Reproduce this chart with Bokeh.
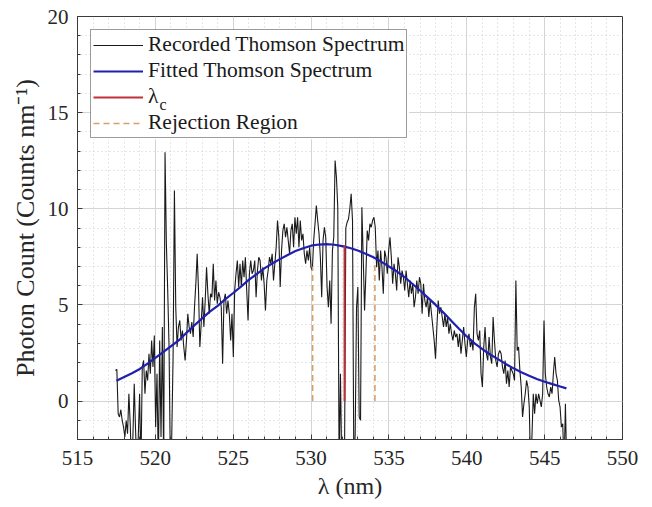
import numpy as np
from bokeh.plotting import figure
from bokeh.models import (Legend, LegendItem, Label, SingleIntervalTicker, Range1d,
                          BoxAnnotation)
from bokeh.embed import file_html
from bokeh.resources import INLINE

# ---------------- data ----------------
wl_start, wl_end = 517.44, 546.42

counts_518_525 = [1.59, 1.65, -0.66, -0.83, -0.45, -1.01, -1.35, -1.87, -1.01, -1.70,
                  0.38, -1.18, -3.5, -1.87, 0.90, -1.53, -3.5, -1.87, 0.38, -3.5,
                  1.77, 2.11, 0.38, 1.59, 1.07, 2.46, 1.42, 3.15, 1.77, 3.41,
                  -1.35, 1.42, -3.5, 3.15, -1.87, 3.85, -3.5, 12.94, 8.18, 5.75,
                  2.81, -3.5, -1.87, 2.29, 10.95, 4.88, 2.81, 3.85, 4.19, 3.15,
                  3.67, 2.81, 2.11, 3.15, 4.54, 3.85, 3.50, 4.11, 3.33, 4.88,
                  6.10, 7.66, 5.75, 2.81, 4.02, 5.40, 3.85, 5.23, 6.96, 5.58,
                  4.54, 5.58, 5.40, 7.14, 5.23, 6.27, 5.06, 5.66, 5.40, 4.88,
                  1.94, 5.23, 5.58, 4.54, 5.23]
counts_525_532 = [4.54, 3.15, 4.54, 2.29, 5.75, 6.62, 7.31, 5.93, 7.14, 5.93,
                  7.31, 6.44, 7.48, 5.75, 4.19, 6.62, 7.31, 6.62, 6.79, 7.31,
                  5.40, 6.79, 7.48, 7.31, 6.27, 6.96, 6.10, 4.71, 6.27, 6.79,
                  7.48, 7.14, 7.66, 6.27, 7.14, 8.00, 9.39, 8.52, 5.93, 7.83,
                  8.87, 9.22, 8.52, 9.04, 8.35, 7.66, 8.87, 9.22, 8.00, 9.56,
                  8.70, 9.56, 8.00, 9.39, 8.35, 8.70, 7.66, 7.14, 7.83, 7.31,
                  8.00, 6.96, 6.79, 8.35, 9.22, 10.17, 9.39, 8.70, 7.48, 5.40,
                  8.35, 9.04, 8.52, 5.93, 4.88, 6.27, 4.02, 7.83, 8.52, 12.51,
                  11.64, 10.08]
counts_532_540 = [-3.5, 1.42, -3.5, -3.0, -3.5, 9.0, 9.3, 9.47, 10.0, 10.78,
                  9.39, -3.5, -1.7, 4.88, 5.93, -0.83, -1.0, 10.08, 7.48, 4.71,
                  6.62, 8.87, 8.35, 9.22, 9.04, 9.39, 9.56, 9.04, 6.96, 7.83,
                  6.27, 7.83, 6.96, 5.58, 7.83, 7.48, 6.62, 7.83, 8.52, 7.48,
                  6.10, 7.14, 6.62, 5.75, 7.48, 6.96, 6.10, 6.79, 6.44, 5.75,
                  6.79, 6.10, 5.40, 6.27, 5.58, 6.10, 4.88, 5.40, 6.27, 5.58,
                  6.44, 6.10, 4.54, 6.10, 5.23, 4.88, 5.40, 4.37, 5.23, 4.54,
                  3.85, 3.15, 2.20, 3.85, 5.23, 4.54, 4.88, 4.37, 3.85, 4.54,
                  3.85, 4.37, 3.50, 4.02, 3.50, 3.15, 3.67, 3.33, 3.50, 2.81]
counts_540_546 = [3.50, 2.46, 3.15, 3.85, 2.98, 2.29, 3.15, 3.50, 2.81, 3.15,
                  2.63, 4.88, 5.58, 3.50, 3.15, 3.67, 1.42, 0.73, 2.81, 3.85,
                  2.46, 2.11, 3.33, 2.29, 1.94, 4.37, 3.15, 2.11, 1.77, 2.46,
                  2.63, 2.46, 1.77, 1.42, 2.11, 0.90, 1.59, 0.73, 1.77, 1.59,
                  1.42, 1.07, 6.27, 2.63, 2.81, 1.59, 0.73, -0.83, -0.14, 0.38,
                  1.07, 0.73, -0.31, -3.5, -1.87, 0.38, -0.66, 0.38, -0.14, 0.38,
                  0.03, -0.31, 0.38, 4.19, 1.42, 0.73, 0.38, 0.21, 0.73, 0.38,
                  1.42, 2.29, 1.42, 1.07, 0.03, -0.31, -1.35, -1.18, -3.5, -0.14,
                  -3.5]

fit_wl = [517.5, 518.0, 518.5, 519.0, 519.5, 520.0, 520.5, 521.0, 521.5, 522.0,
          522.5, 523.0, 523.5, 524.0, 524.5, 525.0, 525.5, 526.0, 526.5, 527.0,
          527.5, 528.0, 528.5, 529.0, 529.5, 530.0, 530.5, 531.0, 531.5, 532.0,
          532.5, 533.0, 533.5, 534.0, 534.5, 535.0, 535.5, 536.0, 536.5, 537.0,
          537.5, 538.0, 538.5, 539.0, 539.5, 540.0, 540.5, 541.0, 541.5, 542.0,
          542.5, 543.0, 543.5, 544.0, 544.5, 545.0, 545.5, 546.0, 546.4]
fit_counts = [1.05, 1.25, 1.45, 1.67, 1.95, 2.25, 2.55, 2.85, 3.15, 3.55,
              3.93, 4.30, 4.65, 4.95, 5.30, 5.62, 5.95, 6.30, 6.60, 6.90,
              7.15, 7.38, 7.60, 7.80, 7.95, 8.08, 8.14, 8.16, 8.13, 8.06,
              7.96, 7.83, 7.66, 7.48, 7.25, 7.00, 6.75, 6.45, 6.10, 5.75,
              5.38, 5.00, 4.60, 4.18, 3.76, 3.36, 3.00, 2.70, 2.42, 2.18,
              1.93, 1.70, 1.50, 1.32, 1.15, 1.00, 0.88, 0.76, 0.66]

lambda_c = [532.15]
lambda_c_top = [8.10]
rej_wl = [530.10, 534.10]
rej_top = [7.00, 7.30]

x_ticks_interval = 5
y_ticks_interval = 5

counts = counts_518_525 + counts_525_532 + counts_532_540 + counts_540_546
wl = np.linspace(wl_start, wl_end, len(counts))

FONT = "Liberation Serif"

p = figure(width=652, height=507, output_backend="svg", toolbar_location=None,
           x_range=Range1d(515, 550), y_range=Range1d(-2, 20),
           min_border_left=77, min_border_right=30, min_border_top=16,
           min_border_bottom=68)

xt = SingleIntervalTicker(interval=x_ticks_interval, num_minor_ticks=5)
yt = SingleIntervalTicker(interval=y_ticks_interval, num_minor_ticks=5)
p.xaxis.ticker = xt
p.yaxis.ticker = yt
p.xgrid.ticker = xt
p.ygrid.ticker = yt

for g in (p.xgrid, p.ygrid):
    g.grid_line_color = "#d4d4d4"
    g.grid_line_width = 1
    g.minor_grid_line_color = "#cfcfcf"
    g.minor_grid_line_dash = "1 3"
    g.minor_grid_line_width = 1

for ax in (p.xaxis, p.yaxis):
    ax.axis_line_color = "#3a3a3a"
    ax.major_tick_line_color = "#3a3a3a"
    ax.minor_tick_line_color = "#3a3a3a"
    ax.major_tick_in = 5
    ax.major_tick_out = 0
    ax.minor_tick_in = 3
    ax.minor_tick_out = 0
    ax.major_label_text_font = FONT
    ax.major_label_text_font_size = "21px"
    ax.major_label_text_color = "#262626"
    ax.axis_label_text_font = FONT
    ax.axis_label_text_font_style = "normal"
    ax.axis_label_text_color = "#262626"

p.xaxis.axis_label_text_font_size = "24px"
p.yaxis.axis_label_text_font_size = "26px"
p.xaxis.major_label_standoff = 11
p.xaxis.axis_label_standoff = 5
p.yaxis.major_label_standoff = 9
p.yaxis.axis_label_standoff = 5
p.xaxis.axis_label = "λ (nm)"
p.yaxis.axis_label = "Photon Count (Counts nm⁻¹)"

p.outline_line_color = "#3a3a3a"
p.outline_line_width = 1

# white backing for the legend (drawn above the grid, below the data)
legend_bg = BoxAnnotation(left=515.85, right=536.3, top=19.31, bottom=13.62,
                          fill_color="white", fill_alpha=1, line_alpha=0,
                          level="underlay")
p.add_layout(legend_bg)

r_data = p.line(wl, counts, line_color="#1a1a1a", line_width=1.1)
r_fit = p.line(fit_wl, fit_counts, line_color="#1f1fb0", line_width=2.2)
r_lc = p.segment(x0=lambda_c, y0=[0], x1=lambda_c, y1=lambda_c_top,
                 line_color="#c0303a", line_width=2)
r_rej = p.segment(x0=rej_wl, y0=[0, 0], x1=rej_wl, y1=rej_top,
                  line_color="#d6a06a", line_width=1.6, line_dash="6 4")

legend = Legend(items=[
    LegendItem(label="Recorded Thomson Spectrum", renderers=[r_data]),
    LegendItem(label="Fitted Thomson Spectrum", renderers=[r_fit]),
    LegendItem(label="λ", renderers=[r_lc]),
    LegendItem(label="Rejection Region", renderers=[r_rej]),
], location="top_left")
legend.margin = 13
legend.padding = 2
legend.spacing = 1
legend.glyph_width = 50
legend.glyph_height = 20
legend.label_height = 20
legend.label_standoff = 5
legend.label_text_font = FONT
legend.label_text_font_size = "21.5px"
legend.label_text_color = "#1a1a1a"
legend.border_line_color = "#3a3a3a"
legend.border_line_width = 1
legend.background_fill_alpha = 0
p.add_layout(legend)

sub = Label(x=520.50, y=15.40, text="c", text_font=FONT, text_font_size="16px",
            text_align="center", text_baseline="middle", text_color="#1a1a1a")
p.add_layout(sub)

open("out.html", "w").write(file_html(p, INLINE))
